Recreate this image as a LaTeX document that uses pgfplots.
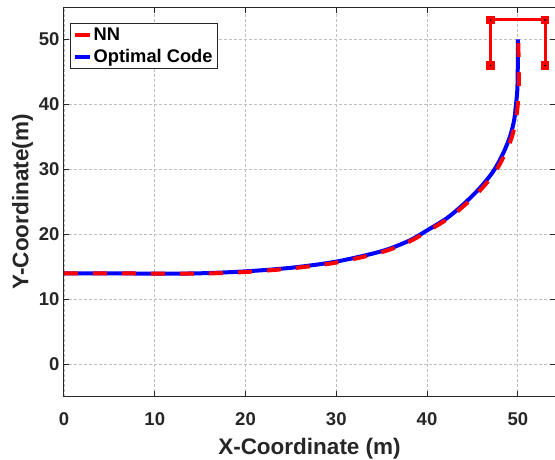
\documentclass[border=0pt]{standalone}
\usepackage{fontspec}
\setmainfont{Liberation Sans}
\usepackage{pgfplots}
\pgfplotsset{compat=1.18}
\definecolor{axgray}{gray}{0.15}
\definecolor{mred}{rgb}{1,0,0}
\definecolor{mblue}{rgb}{0,0,1}
\begin{document}
\begin{tikzpicture}[x=1pt,y=1pt]
\useasboundingbox (-64,-62.3) rectangle (491,396.7);
\begin{axis}[
  at={(0,0)}, anchor=south west,
  scale only axis, width=491pt, height=389.7pt,
  xmin=0, xmax=54.1, ymin=-5, ymax=55,
  xtick={0,10,...,50}, ytick={0,10,...,50},
  /pgf/number format/assume math mode=true,
  tick label style={font=\bfseries\fontsize{18.5}{20}\selectfont, color=axgray},
  xticklabel style={yshift=-12.5pt},
  yticklabel style={xshift=-1pt},
  xlabel={X-Coordinate (m)}, ylabel={Y-Coordinate(m)},
  label style={font=\bfseries\fontsize{22.5}{24}\selectfont, color=axgray},
  xlabel style={yshift=-5pt},
  ylabel style={yshift=-1pt},
  tick align=inside, major tick length=5.5pt,
  axis line style={axgray, line width=1pt},
  major tick style={axgray, line width=1pt},
  grid=major,
  major grid style={black!25, dash pattern=on 3pt off 2pt, line width=0.9pt},
  legend cell align=left,
  legend image code/.code={\draw[#1] (0pt,0pt) -- (15pt,0pt);},
  legend style={at={(0,1)}, anchor=north west, xshift=5.7pt, yshift=-15.7pt,
    draw=axgray, line width=0.9pt, fill=white,
    font=\bfseries\fontsize{18.3}{20}\selectfont, inner sep=2.5pt, row sep=3.5pt},
]
\addlegendimage{mred, line width=4pt}
\addlegendentry{NN}
\addlegendimage{mblue, line width=4pt}
\addlegendentry{Optimal Code}
% Optimal code
\addplot[mblue, line width=4pt, smooth, tension=0.5, forget plot] coordinates {
(0,14) (5,14) (10,13.95) (15,14.0) (20,14.3) (25,14.85) (30,15.8) (35,17.4)
(38,19.0) (40,20.6) (42.2,22.5) (44.0,24.6) (45.8,27.1) (47.3,29.7) (48.4,32.5)
(49.15,35.1) (49.6,37.6) (49.8,40.0) (49.95,42.3) (50,46) (50,50)
};
% NN
\addplot[mred, line width=4pt, smooth, tension=0.5, dash pattern=on 14pt off 15pt, forget plot] coordinates {
(0,14) (5,14) (10,13.95) (15,13.95) (20,14.2) (25,14.75) (30,15.65) (35,17.25)
(38,18.85) (40,20.45) (42.3,22.4) (44.15,24.5) (46.0,27.0) (47.5,29.6) (48.6,32.4)
(49.35,35.0) (49.8,37.6) (50.0,40.0) (50.1,42.3) (50.1,46) (50.05,50)
};
% target bracket
\addplot[mred, line width=3pt, mark=square*, mark size=2.8pt, mark options={fill=mred, draw=mred, solid}, forget plot] coordinates {
(47,46) (47,53) (53,53) (53,46)
};
\addplot[only marks, mark=*, mark size=0.6pt, black, forget plot] coordinates {
(47,46) (47,53) (53,53) (53,46)
};
\end{axis}
\end{tikzpicture}
\end{document}
